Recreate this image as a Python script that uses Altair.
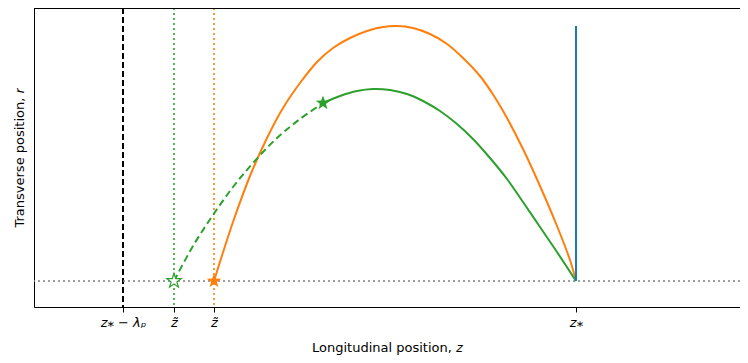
import math
import altair as alt
import pandas as pd

# ---- data (z and r in arbitrary plot units) ----
z_star = 542            # z*
z_lam = 89              # z* - lambda_p
z_tilde_green = 140     # green z~
z_tilde_orange = 180    # orange z~
r_blue_top = 255

orange_z = [180, 199, 216, 233, 249, 266, 283, 299, 316, 333, 349, 363, 379, 396, 413, 429, 446, 460, 473, 489, 506, 523, 536, 542]
orange_r = [0, 59, 105, 143, 173, 198, 219, 233, 243, 250, 254, 255, 253, 247, 237, 223, 205, 185, 163, 132, 95, 55, 21, 0]

green_dash_z = [140, 159, 179, 199, 219, 243, 266, 289]
green_dash_r = [0, 35, 66, 94, 118, 143, 162, 178]

green_solid_z = [289, 306, 323, 339, 356, 373, 389, 406, 423, 439, 456, 473, 489, 506, 523, 542]
green_solid_r = [178, 185, 190, 192, 191, 187, 180, 170, 157, 142, 123, 102, 79, 54, 29, 0]

star_z = [z_tilde_orange, z_tilde_green, 289]
star_r = [0, 0, 178]
star_kind = ["orange", "green_open", "green"]

tick_vals = [z_lam, z_tilde_green, z_tilde_orange, z_star]
tick_text = ["z\u204e \u2212 \u03bb\u209a", "z\u0303", "z\u0303", "z\u204e"]

# ---- styling ----
BLUE, ORANGE, GREEN = "#1f77b4", "#ff7f0e", "#2ca02c"
W, H = 706, 299
XDOM = [0, 706]
YDOM = [-26, 273]

pts = []
for k in range(10):
    ang = math.radians(-90 + 36 * k)
    rad = 1.0 if k % 2 == 0 else 0.40
    pts.append(f"{rad*math.cos(ang):.4f},{rad*math.sin(ang):.4f}")
STAR = "M" + "L".join(pts) + "Z"

label_map = "{" + ",".join(f"'{v}':'{t}'" for v, t in zip(tick_vals, tick_text)) + "}"

xs = alt.Scale(domain=XDOM, nice=False, zero=False)
ys = alt.Scale(domain=YDOM, nice=False, zero=False)

orange_df = pd.DataFrame({"z": orange_z, "r": orange_r})
gdash_df = pd.DataFrame({"z": green_dash_z, "r": green_dash_r})
gsolid_df = pd.DataFrame({"z": green_solid_z, "r": green_solid_r})
star_df = pd.DataFrame({"z": star_z, "r": star_r, "kind": star_kind})

xaxis = alt.Axis(values=tick_vals, labelExpr=f"{label_map}[''+datum.value]", grid=False,
                 title="Longitudinal position, \U0001d467", titleFontSize=13, titleFontWeight="normal",
                 titleFont="DejaVu Sans", titleColor="black", labelFont="DejaVu Sans",
                 labelFontSize=13, labelFontStyle="italic", labelColor="black",
                 tickColor="black", tickSize=5, domainColor="black", labelPadding=4, titlePadding=12,
                 labelOverlap=False, labelBound=False)
yaxis = alt.Axis(values=[], labels=False, ticks=False, grid=False,
                 title="Transverse position, \U0001d45f", titleFontSize=13, titleFontWeight="normal",
                 titleFont="DejaVu Sans", titleColor="black", domainColor="black", titlePadding=8)

base_x = alt.X("z:Q", scale=xs, axis=xaxis)
base_y = alt.Y("r:Q", scale=ys, axis=yaxis)

# top frame line
top_line = alt.Chart(pd.DataFrame({"a": [0]})).mark_rule(color="black", strokeWidth=1).encode(
    x=alt.value(0), x2=alt.value(W), y=alt.value(0.5))

vrules_df = pd.DataFrame({"z": [z_lam, z_tilde_green, z_tilde_orange],
                          "c": ["black", GREEN, ORANGE]})
black_rule = alt.Chart(vrules_df.iloc[[0]]).mark_rule(color="black", strokeWidth=2, strokeDash=[6, 3]).encode(
    x=alt.X("z:Q", scale=xs, axis=xaxis))
color_rules = alt.Chart(vrules_df.iloc[1:]).mark_rule(strokeWidth=1.6, strokeDash=[2, 3]).encode(
    x=alt.X("z:Q", scale=xs, axis=xaxis), color=alt.Color("c:N", scale=None))
hline = alt.Chart(pd.DataFrame({"r": [0]})).mark_rule(color="#808080", strokeWidth=1.6, strokeDash=[2, 3]).encode(
    y=alt.Y("r:Q", scale=ys, axis=yaxis))
blue_df = pd.DataFrame({"z": [z_star], "r": [0], "r2": [r_blue_top]})
blue = alt.Chart(blue_df).mark_rule(color=BLUE, strokeWidth=2).encode(
    x=alt.X("z:Q", scale=xs, axis=xaxis), y=alt.Y("r:Q", scale=ys, axis=yaxis), y2="r2:Q")

orange = alt.Chart(orange_df).mark_line(color=ORANGE, strokeWidth=2, interpolate="catmull-rom").encode(x=base_x, y=base_y)
gdash = alt.Chart(gdash_df).mark_line(color=GREEN, strokeWidth=2, strokeDash=[7, 4], interpolate="catmull-rom").encode(x=base_x, y=base_y)
gsolid = alt.Chart(gsolid_df).mark_line(color=GREEN, strokeWidth=2, interpolate="catmull-rom").encode(x=base_x, y=base_y)

filled = alt.Chart(star_df[star_df.kind != "green_open"]).mark_point(shape=STAR, size=230, filled=True, opacity=1).encode(
    x=base_x, y=base_y,
    color=alt.Color("kind:N", scale=alt.Scale(domain=["orange", "green"], range=[ORANGE, GREEN]), legend=None))
hollow = alt.Chart(star_df[star_df.kind == "green_open"]).mark_point(shape=STAR, size=230, filled=False, stroke=GREEN,
                                                                      fill="white", fillOpacity=1, strokeWidth=1.2, opacity=1).encode(
    x=base_x, y=base_y)

chart = alt.layer(black_rule, color_rules, hline, orange, gdash, gsolid, blue, filled, hollow, top_line).properties(
    width=W, height=H,
    autosize=alt.AutoSizeParams(type="none"),
    padding={"left": 26, "top": 0, "right": 0, "bottom": 52},
).configure_view(stroke=None).configure(background="white")

chart.save("out.html", embed_options={"renderer": "svg", "actions": False})
